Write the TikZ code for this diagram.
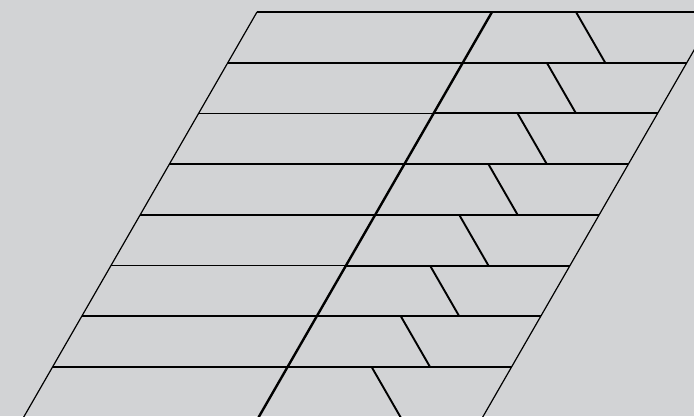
\documentclass[tikz,border=0pt]{standalone}
\definecolor{bg}{RGB}{210,211,213}
\begin{document}
\begin{tikzpicture}[x=1pt,y=-1pt,
  edge/.style={line width=1.2pt,black},
  hleft/.style={line width=1.6pt,black},
  hright/.style={line width=2pt,black},
  midline/.style={line width=2.4pt,black},
  divider/.style={line width=1.9pt,black}]
\fill[bg] (0,0) rectangle (694,416);
\useasboundingbox (0,0) rectangle (694,416);
\clip (0,0) rectangle (694,416);
\def\h{50.7}
\def\s{29.2}
% outer slanted edges
\draw[edge] (257,12) -- ++(-9*\s,9*\h);
\draw[edge] (716,12) -- ++(-9*\s,9*\h);
% horizontals and dividers
\foreach \k in {0,...,8}{
  \pgfmathsetmacro{\yy}{12+\h*\k}
  \pgfmathsetmacro{\xl}{257-\s*\k}
  \pgfmathsetmacro{\xm}{492-\s*\k}
  \pgfmathsetmacro{\xd}{576-\s*\k}
  \pgfmathsetmacro{\xr}{716-\s*\k}
  \draw[hleft] (\xl,\yy) -- (\xm,\yy);
  \draw[hright] (\xm,\yy) -- (\xr,\yy);
  \draw[divider] (\xd,\yy) -- ++(\s,\h);
}
% middle slanted line
\draw[midline] (492,12) -- ++(-9*\s,9*\h);
\end{tikzpicture}
\end{document}
